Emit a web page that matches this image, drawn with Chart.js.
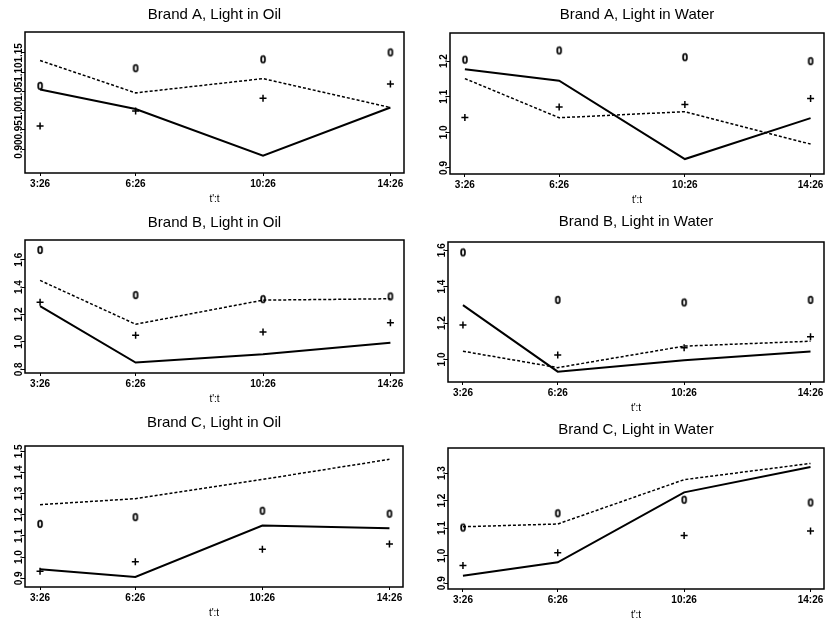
<!DOCTYPE html>
<html>
<head>
<meta charset="utf-8">
<title>Brand / Light</title>
<script src="https://cdn.jsdelivr.net/npm/chart.js@4.4.1/dist/chart.umd.min.js"></script>
<style>
  html, body { margin: 0; padding: 0; background: #fff; overflow: hidden; }
  body { width: 826px; height: 622px; position: relative; }
  canvas { position: absolute; }
</style>
</head>
<body>
<script>
// Time points on the x axis
const times = ["3:26", "6:26", "10:26", "14:26"];
const xTitle = "t':t";

const titles = [
    "Brand A, Light in Oil", "Brand A, Light in Water",
    "Brand B, Light in Oil", "Brand B, Light in Water",
    "Brand C, Light in Oil", "Brand C, Light in Water"
];

// Brand A, Light in Oil
const aOilSolid = [1.055, 1.004, 0.883, 1.008];
const aOilDashed = [1.130, 1.046, 1.083, 1.008];
const aOilZero = [1.064, 1.110, 1.133, 1.151];
const aOilPlus = [0.960, 0.999, 1.032, 1.069];
const aOilYTicks = ["0.90", "0.95", "1.00", "1.05", "1.10", "1.15"];

// Brand A, Light in Water
const aWaterSolid = [1.177, 1.145, 0.925, 1.040];
const aWaterDashed = [1.151, 1.041, 1.058, 0.967];
const aWaterZero = [1.204, 1.230, 1.211, 1.200];
const aWaterPlus = [1.042, 1.071, 1.078, 1.095];
const aWaterYTicks = ["0.9", "1.0", "1.1", "1.2"];

// Brand B, Light in Oil
const bOilSolid = [1.261, 0.849, 0.910, 0.993];
const bOilDashed = [1.449, 1.129, 1.305, 1.315];
const bOilZero = [1.671, 1.342, 1.312, 1.332];
const bOilPlus = [1.290, 1.049, 1.073, 1.139];
const bOilYTicks = ["0.8", "1.0", "1.2", "1.4", "1.6"];

// Brand B, Light in Water
const bWaterSolid = [1.298, 0.933, 0.996, 1.044];
const bWaterDashed = [1.045, 0.955, 1.073, 1.100];
const bWaterZero = [1.588, 1.327, 1.313, 1.327];
const bWaterPlus = [1.189, 1.024, 1.064, 1.125];
const bWaterYTicks = ["1.0", "1.2", "1.4", "1.6"];

// Brand C, Light in Oil
const cOilSolid = [0.943, 0.906, 1.149, 1.137];
const cOilDashed = [1.248, 1.276, 1.367, 1.462];
const cOilZero = [1.157, 1.189, 1.219, 1.205];
const cOilPlus = [0.933, 0.978, 1.037, 1.062];
const cOilYTicks = ["0.9", "1.0", "1.1", "1.2", "1.3", "1.4", "1.5"];

// Brand C, Light in Water
const cWaterSolid = [0.927, 0.976, 1.230, 1.322];
const cWaterDashed = [1.105, 1.115, 1.276, 1.335];
const cWaterZero = [1.102, 1.154, 1.203, 1.193];
const cWaterPlus = [0.964, 1.011, 1.073, 1.090];
const cWaterYTicks = ["0.9", "1.0", "1.1", "1.2", "1.3"];

const fontFamily = "'Liberation Sans', Arial, Helvetica, sans-serif";
Chart.defaults.font.family = fontFamily;
Chart.defaults.color = "#000";

// hours as numbers, so the x axis is a real time scale
const hours = times.map(t => {
    const [h, m] = t.split(":").map(Number);
    return h + m / 60;
});

// the "0" marker is a character, like in the original
const zeroMark = document.createElement("canvas");
zeroMark.width = 10;
zeroMark.height = 12;
const zc = zeroMark.getContext("2d");
zc.font = "bold 11px " + fontFamily;
zc.textAlign = "center";
zc.textBaseline = "middle";
zc.fillStyle = "#000";
zc.strokeStyle = "#000";
zc.lineWidth = 0.4;
zc.fillText("0", 5, 6.5);
zc.strokeText("0", 5, 6.5);

const measureCtx = document.createElement("canvas").getContext("2d");
measureCtx.font = "bold 10px " + fontFamily;

// box around the plot area
const frame = {
    id: "frame",
    beforeDatasetsDraw(chart) {
        const { ctx, chartArea: a } = chart;
        ctx.save();
        ctx.strokeStyle = "#000";
        ctx.lineWidth = 1.5;
        ctx.strokeRect(a.left, a.top, a.right - a.left, a.bottom - a.top);
        ctx.restore();
    }
};

const panels = [
    { title: titles[0], solid: aOilSolid, dashed: aOilDashed, zero: aOilZero, plus: aOilPlus, yTicks: aOilYTicks, yMin: 0.838, yMax: 1.204, box: [25, 32, 404, 173], gap: 17 },
    { title: titles[1], solid: aWaterSolid, dashed: aWaterDashed, zero: aWaterZero, plus: aWaterPlus, yTicks: aWaterYTicks, yMin: 0.883, yMax: 1.279, box: [450, 33, 824, 174], gap: 18 },
    { title: titles[2], solid: bOilSolid, dashed: bOilDashed, zero: bOilZero, plus: bOilPlus, yTicks: bOilYTicks, yMin: 0.773, yMax: 1.744, box: [25, 240, 404, 373], gap: 17 },
    { title: titles[3], solid: bWaterSolid, dashed: bWaterDashed, zero: bWaterZero, plus: bWaterPlus, yTicks: bWaterYTicks, yMin: 0.876, yMax: 1.645, box: [448, 242, 824, 382], gap: 20 },
    { title: titles[4], solid: cOilSolid, dashed: cOilDashed, zero: cOilZero, plus: cOilPlus, yTicks: cOilYTicks, yMin: 0.859, yMax: 1.525, box: [25, 446, 403, 587], gap: 23 },
    { title: titles[5], solid: cWaterSolid, dashed: cWaterDashed, zero: cWaterZero, plus: cWaterPlus, yTicks: cWaterYTicks, yMin: 0.879, yMax: 1.391, box: [448, 448, 824, 589], gap: 18 }
];

function toPoints(values) {
    return values.map((v, i) => ({ x: hours[i], y: v }));
}

function makeChart(p) {
    const [left, top, right, bottom] = p.box;
    const axisW = 26;
    const axisH = 32;
    const titleH = p.gap + 13;

    const canvas = document.createElement("canvas");
    canvas.width = right - left + 2 * axisW;
    canvas.height = titleH + (bottom - top) + axisH;
    canvas.style.left = (left - axisW) + "px";
    canvas.style.top = (top - titleH) + "px";
    canvas.style.width = canvas.width + "px";
    canvas.style.height = canvas.height + "px";
    document.body.appendChild(canvas);

    const yValues = p.yTicks.map(Number);
    const widest = Math.max(...p.yTicks.map(t => measureCtx.measureText(t).width));

    new Chart(canvas, {
        type: "line",
        data: {
            datasets: [
                { data: toPoints(p.solid), borderColor: "#000", backgroundColor: "#000", borderWidth: 2, pointRadius: 0, tension: 0, fill: false },
                { data: toPoints(p.dashed), borderColor: "#000", backgroundColor: "#000", borderWidth: 1.5, borderDash: [3, 2], pointRadius: 0, tension: 0, fill: false },
                { data: toPoints(p.zero), showLine: false, borderColor: "#000", backgroundColor: "#000", pointStyle: zeroMark, pointRadius: 4 },
                { data: toPoints(p.plus), showLine: false, borderColor: "#000", backgroundColor: "#000", pointStyle: "cross", pointRadius: 3.5, pointBorderColor: "#000", pointBorderWidth: 1.5 }
            ]
        },
        options: {
            responsive: false,
            animation: false,
            events: [],
            layout: { padding: 0 },
            plugins: {
                colors: { enabled: false },
                legend: { display: false },
                tooltip: { enabled: false },
                title: {
                    display: true,
                    text: p.title,
                    color: "#000",
                    font: { size: 15, weight: "normal", lineHeight: 1.2 },
                    padding: { top: 4, bottom: p.gap - 9 }
                }
            },
            scales: {
                x: {
                    type: "linear",
                    min: 2.96,
                    max: 14.86,
                    afterBuildTicks: s => { s.ticks = hours.map(v => ({ value: v })); },
                    afterFit: s => { s.height = axisH; },
                    ticks: {
                        autoSkip: false,
                        maxRotation: 0,
                        padding: 2,
                        color: "#000",
                        font: { size: 10, weight: "bold" },
                        callback: (v, i) => times[i]
                    },
                    grid: { drawOnChartArea: false, tickLength: 3, tickColor: "#000" },
                    border: { display: false },
                    title: { display: true, text: xTitle, color: "#000", font: { size: 10 }, padding: 0 }
                },
                y: {
                    type: "linear",
                    min: p.yMin,
                    max: p.yMax,
                    afterBuildTicks: s => { s.ticks = yValues.map(v => ({ value: v })); },
                    afterFit: s => { s.width = axisW; },
                    ticks: {
                        autoSkip: false,
                        minRotation: 90,
                        maxRotation: 90,
                        crossAlign: "center",
                        padding: 3 - widest / 2,
                        color: "#000",
                        font: { size: 10, weight: "bold" },
                        callback: (v, i) => p.yTicks[i]
                    },
                    grid: { drawOnChartArea: false, tickLength: 3, tickColor: "#000" },
                    border: { display: false }
                },
                yRight: {
                    type: "linear",
                    position: "right",
                    afterFit: s => { s.width = axisW; },
                    ticks: { display: false },
                    grid: { display: false },
                    border: { display: false }
                }
            }
        },
        plugins: [frame]
    });
}

panels.forEach(makeChart);
</script>
</body>
</html>
